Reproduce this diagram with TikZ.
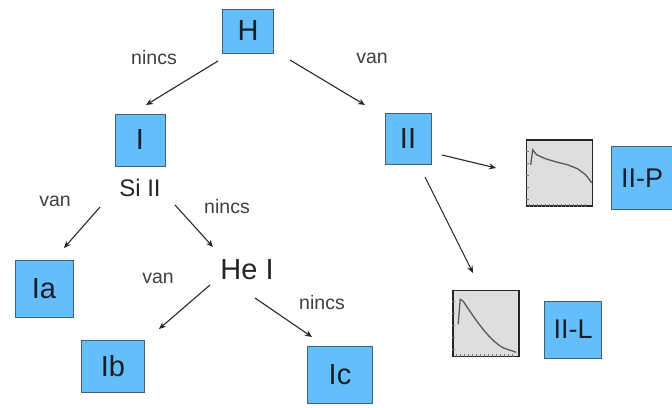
\documentclass[tikz,border=0pt]{standalone}
\usepackage{fontspec}
\setmainfont{Liberation Sans}
\usetikzlibrary{arrows.meta}
\definecolor{boxblue}{RGB}{100,190,250}
\definecolor{boxedge}{RGB}{70,95,115}
\definecolor{graphbg}{RGB}{222,222,222}
\definecolor{arrowc}{RGB}{40,40,40}
\definecolor{txtc}{RGB}{25,30,45}
\tikzset{
  bluebox/.style={draw=boxedge, line width=0.9pt, fill=boxblue, inner sep=0pt, font=\fontsize{29}{29}\selectfont, text=txtc},
  arr/.style={draw=arrowc, line width=1.1pt, -{Stealth[length=7pt,width=6pt]}},
  lbl/.style={font=\fontsize{19.5}{19.5}\selectfont, text=black!75},
  ion/.style={inner sep=1pt, text=black!85},
  graphbox/.style={draw=black!85, line width=1.6pt, fill=graphbg, minimum width=66pt, minimum height=66pt, inner sep=0pt},
  tick/.style={black!55, line width=0.5pt},
  curve/.style={black!65, line width=1.3pt}
}
\begin{document}
\begin{tikzpicture}[x=1pt,y=1pt]
\useasboundingbox (0,0) rectangle (672,407);
\fill[white] (0,0) rectangle (672,407);
% boxes
\node[bluebox, minimum width=51pt, minimum height=44pt] (H) at (248,376) {H};
\node[bluebox, minimum width=50pt, minimum height=52pt] (I) at (140,267) {I};
\node[bluebox, minimum width=46pt, minimum height=51pt] (II) at (408,268.5) {II};
\node[ion, font=\fontsize{24}{24}\selectfont] (SiII) at (140,219) {Si II};
\node[ion, font=\fontsize{29}{29}\selectfont] (HeI) at (247,137) {He I};
\node[bluebox, minimum width=58pt, minimum height=57pt] (Ia) at (44,118.5) {Ia};
\node[bluebox, minimum width=63pt, minimum height=52pt] (Ib) at (113,41) {Ib};
\node[bluebox, minimum width=65pt, minimum height=57pt] (Ic) at (340,32) {Ic};
\node[bluebox, minimum width=62pt, minimum height=63pt, font=\fontsize{27}{27}\selectfont] (IIP) at (642,229) {II-P};
\node[bluebox, minimum width=57pt, minimum height=57pt, font=\fontsize{27}{27}\selectfont] (IIL) at (573,77.5) {II-L};
% graphs
\node[graphbox] (GP) at (559.5,234) {};
\node[graphbox] (GL) at (486,83.5) {};
% graph P details
\begin{scope}[shift={(GP.south west)}]
  \foreach \t in {4,8,...,62} \draw[tick] (\t,0) -- (\t,3);
  \foreach \t in {8,20,32,44,56} \draw[tick] (0,\t) -- (3,\t);
  \draw[curve] (5,42) -- (7,57) -- (11,52) -- (20,48) -- (30,45) -- (42,42) -- (52,38) -- (60,32) -- (66,24);
\end{scope}
% graph L details
\begin{scope}[shift={(GL.south west)}]
  \foreach \t in {4,8,...,62} \draw[tick] (\t,0) -- (\t,3);
  \foreach \t in {8,20,32,44,56} \draw[tick] (0,\t) -- (3,\t);
  \draw[curve] (6,33) -- (8,58) -- (11,56) .. controls (25,35) and (38,16) .. (52,9) -- (64,5);
\end{scope}
% connectors
\coordinate (aHIs) at (218,346); \coordinate (aHIe) at (146,302);
\coordinate (aHIIs) at (290,347); \coordinate (aHIIe) at (365,302);
\coordinate (aPs) at (442,252); \coordinate (aPe) at (496,239);
\coordinate (aLs) at (425,230); \coordinate (aLe) at (473,134);
\coordinate (aSas) at (100,200); \coordinate (aSae) at (64,159);
\coordinate (aShs) at (175,202); \coordinate (aShe) at (213,160);
\coordinate (aHbs) at (210,122); \coordinate (aHbe) at (159,78);
\coordinate (aHcs) at (255,109); \coordinate (aHce) at (312,70);
\draw[arr] (aHIs) -- (aHIe);
\draw[arr] (aHIIs) -- (aHIIe);
\draw[arr] (aPs) -- (aPe);
\draw[arr] (aLs) -- (aLe);
\draw[arr] (aSas) -- (aSae);
\draw[arr] (aShs) -- (aShe);
\draw[arr] (aHbs) -- (aHbe);
\draw[arr] (aHcs) -- (aHce);
% labels
\node[lbl] (l1) at (154,349) {nincs};
\node[lbl] (l2) at (372,349) {van};
\node[lbl] (l3) at (55,206) {van};
\node[lbl] (l4) at (227,200) {nincs};
\node[lbl] (l5) at (158,129) {van};
\node[lbl] (l6) at (322,104) {nincs};
\end{tikzpicture}
\end{document}
